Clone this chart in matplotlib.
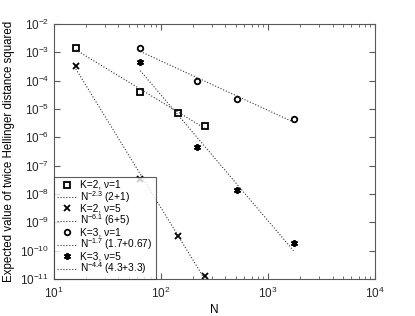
import numpy as np
import matplotlib
matplotlib.use('Agg')
import matplotlib.pyplot as plt

plt.rcParams['font.family'] = ['Liberation Sans', 'DejaVu Sans']
plt.rcParams['mathtext.fontset'] = 'custom'
plt.rcParams['mathtext.rm'] = 'Liberation Sans'
plt.rcParams['mathtext.it'] = 'Liberation Sans:italic'

# sample sizes
n_k2 = [16, 64, 144, 256]
n_k3 = [64, 216, 512, 1728]

# expected value of twice squared Hellinger distance
k2_nu1 = [1.4e-3, 4.0e-5, 7.2e-6, 2.5e-6]
k2_nu5 = [3.3e-4, 3.3e-8, 3.2e-10, 1.3e-11]
k3_nu1 = [1.4e-3, 9.8e-5, 2.3e-5, 4.4e-6]
k3_nu5 = [4.5e-4, 4.5e-7, 1.4e-8, 1.8e-10]

series = [
    (n_k2, k2_nu1, 's', 'K=2, ν=1', r'N$^{-2.3}$ (2+1)'),
    (n_k2, k2_nu5, 'x', 'K=2, ν=5', r'N$^{-6.1}$ (6+5)'),
    (n_k3, k3_nu1, 'o', 'K=3, ν=1', r'N$^{-1.7}$ (1.7+0.67)'),
    (n_k3, k3_nu5, (6, 2, 0), 'K=3, ν=5', r'N$^{-4.4}$ (4.3+3.3)'),
]

fig = plt.figure(figsize=(4.15, 3.16), dpi=100)
ax = fig.add_axes([0.13, 0.117, 0.774, 0.807])

for n, y, mk, lab, fitlab in series:
    ms = 5 if mk == (6, 2, 0) else 4
    ax.plot(n, y, linestyle='none', marker=mk, color='k', markerfacecolor='none',
            markersize=ms, markeredgewidth=1.3, label=lab)
    # power-law fit in log space
    p = np.polyfit(np.log10(n), np.log10(y), 1)
    nn = np.array([n[0], n[-1]])
    ax.plot(nn, 10 ** np.polyval(p, np.log10(nn)), linestyle=':', color='0.2',
            linewidth=0.8, label=fitlab)

ax.set_xscale('log')
ax.set_yscale('log')
ax.set_xlim(10, 1e4)
ax.set_ylim(1e-11, 1e-2)
ax.set_yticks([10.0 ** k for k in range(-11, -1)])
ax.set_xlabel('N', fontsize=8.5, labelpad=2)
ax.set_ylabel('Expected value of twice Hellinger distance squared', fontsize=8.3)

for side in ax.spines.values():
    side.set_color('0.35')
ax.tick_params(which='both', direction='in', top=True, right=True, colors='0.35',
               labelcolor='0.15', labelsize=8.5)
ax.tick_params(which='major', length=4)
ax.tick_params(which='minor', length=2)
ax.tick_params(axis='x', pad=5)

leg = ax.legend(loc='lower left', fontsize=7.3, frameon=True, fancybox=False,
                borderaxespad=0, handlelength=2.0, handleheight=0.5,
                labelspacing=-0.1, borderpad=0.3, handletextpad=0.3)
leg.get_frame().set_edgecolor('0.2')
leg.get_frame().set_linewidth(0.8)

fig.savefig('out.png', dpi=100)
